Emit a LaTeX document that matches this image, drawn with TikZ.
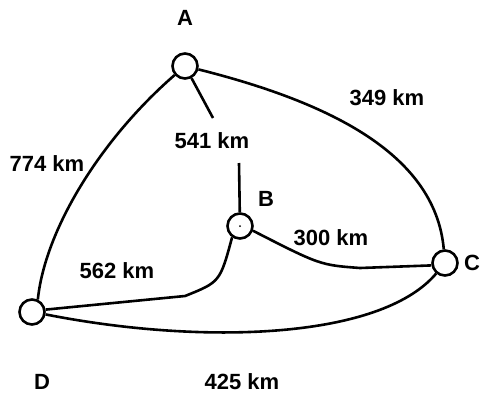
\documentclass[tikz,border=0pt]{standalone}
\usepackage{fontspec}
\setmainfont{Liberation Sans}
\usetikzlibrary{positioning}

\begin{document}
\begin{tikzpicture}[x=1pt, y=-1pt,
    ciudad/.style={circle, draw, line width=2.6pt, minimum size=25pt, inner sep=0pt},
    ruta/.style={line width=2.6pt},
    letra/.style={font=\fontsize{22}{22}\selectfont\bfseries, inner sep=0pt},
    dist/.style={font=\fontsize{22}{22}\selectfont\bfseries, inner sep=0pt}
  ]
  \useasboundingbox (0,0) rectangle (481,410);

  % Ciudades
  \node[ciudad] (A) at (185,66) {};
  \node[ciudad] (B) at (240,226) {};
  \node[ciudad] (C) at (445,263) {};
  \node[ciudad] (D) at (32,312) {};
  \fill (B.center) circle (1pt);

  % Nombres de las ciudades
  \node[letra, above=27pt of A] (nA) {A};
  \node[letra] (nB) at (266,199) {B};
  \node[letra, right=5pt of C] (nC) {C};
  \node[letra] (nD) at (42,382) {D};

  % Distancias
  \node[dist] (d349) at (387,98) {349 km};
  \node[dist] (d541) at (212,141) {541 km};
  \node[dist] (d774) at (47,164) {774 km};
  \node[dist] (d300) at (331,238) {300 km};
  \node[dist] (d562) at (117,271) {562 km};
  \node[dist] (d425) at (242,382) {425 km};

  % Extremos de los tramos cortados por el texto
  \coordinate (ab1) at (213,118);
  \coordinate (ab2) at (239,163);

  % Carreteras
  \draw[ruta] (A) .. controls (320,100) and (435,150) .. (C);
  \draw[ruta] (A) -- (ab1);
  \draw[ruta] (ab2) -- (B);
  \draw[ruta] (A) .. controls (100,140) and (45,230) .. (D.65);
  \draw[ruta] (B.235) .. controls (220,282) .. (185,296) -- (D.10);
  \draw[ruta] (B.-20) .. controls (320,265) .. (360,268) -- (C.190);
  \draw[ruta] (D.-10) .. controls (200,345) and (380,340) .. (C.230);
\end{tikzpicture}
\end{document}
